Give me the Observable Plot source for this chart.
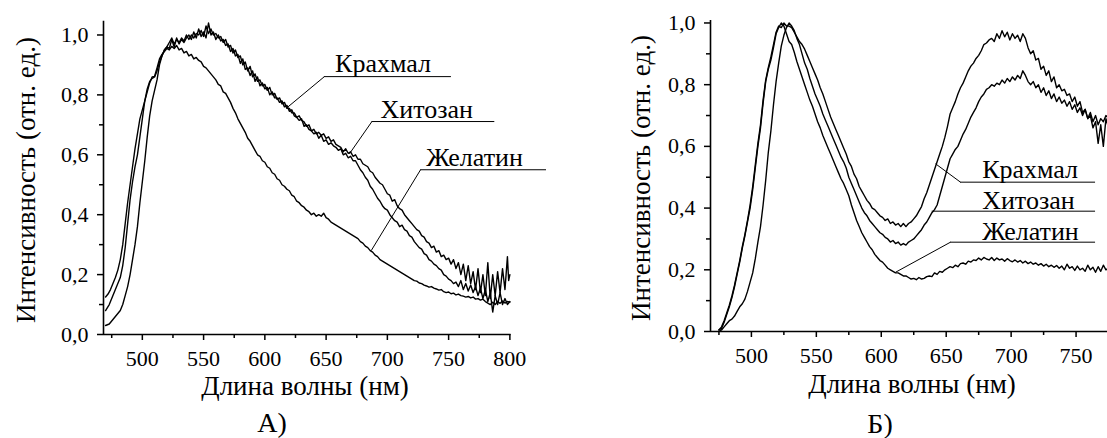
<!DOCTYPE html>
<html>
<head>
<meta charset="utf-8">
<script src="https://cdn.jsdelivr.net/npm/d3@7"></script>
<script src="https://cdn.jsdelivr.net/npm/@observablehq/plot@0.6"></script>
<style>
  html, body { margin: 0; padding: 0; background: #fff; }
  #wrap { position: relative; width: 1107px; height: 438px; overflow: hidden; background: #fff; }
  #wrap svg { position: absolute; top: 0; }
  .t { position: absolute; font-family: "Liberation Serif", Tinos, "Times New Roman", Times, "DejaVu Serif", serif; color: #000; white-space: nowrap; line-height: 1; }
</style>
</head>
<body>
<div id="wrap"></div>
<script>
// ---------- DATA ----------
const seriesNames = ["Крахмал", "Хитозан", "Желатин"];
// Panel A
const aGelatin = [[470,.125],[472,.135],[474,.15],[476,.17],[478,.19],[480,.215],[482,.25],[484,.30],[486,.37],[488,.44],[490,.50],[492,.56],[494,.62],[496,.67],[498,.72],[500,.75],[502,.78],[504,.81],[506,.84],[508,.86],[510,.862],[512,.89],[514,.92],[516,.935],[518,.945],[520,.955],[522,.95],[524,.962],[526,.955],[528,.965],[530,.95],[532,.955],[534,.94],[536,.945],[538,.93],[540,.935],[542,.92],[544,.925],[546,.915],[548,.91],[550,.895],[552,.89],[554,.88],[556,.87],[558,.86],[560,.85],[562,.835],[564,.83],[566,.81],[568,.805],[570,.79],[572,.775],[574,.755],[576,.74],[578,.72],[580,.705],[582,.69],[584,.675],[586,.655],[588,.645],[590,.63],[592,.615],[594,.6],[596,.595],[598,.58],[600,.575],[602,.56],[604,.555],[606,.54],[608,.535],[610,.52],[612,.515],[614,.5],[616,.495],[618,.485],[620,.48],[622,.465],[624,.46],[626,.445],[628,.44],[630,.43],[632,.425],[634,.415],[636,.41],[638,.4],[640,.405],[642,.395],[644,.4],[646,.395],[648,.405],[650,.39],[652,.385],[654,.375],[656,.37],[658,.365],[660,.36],[662,.355],[664,.35],[666,.345],[668,.34],[670,.335],[672,.33],[674,.325],[676,.32],[678,.31],[680,.305],[682,.295],[684,.29],[686,.28],[688,.275],[690,.265],[692,.26],[694,.25],[696,.245],[698,.24],[700,.235],[702,.23],[704,.225],[706,.22],[708,.215],[710,.21],[712,.205],[714,.2],[716,.195],[718,.19],[720,.185],[722,.18],[724,.178],[726,.172],[728,.17],[730,.165],[732,.162],[734,.158],[736,.16],[738,.155],[740,.152],[742,.148],[744,.15],[746,.143],[748,.14],[750,.142],[752,.136],[754,.138],[756,.132],[758,.135],[760,.13],[762,.128],[764,.125],[766,.127],[768,.122],[770,.125],[772,.118],[774,.12],[776,.115],[778,.118],[780,.11],[782,.105],[784,.1],[786,.108],[788,.1],[790,.11],[792,.104],[794,.112],[796,.105],[798,.11],[800,.108]];
const aStarch = [[470,.08],[473,.10],[476,.13],[479,.16],[482,.19],[484,.23],[486,.29],[488,.37],[490,.45],[492,.51],[494,.56],[496,.60],[498,.66],[500,.72],[502,.78],[504,.82],[506,.845],[508,.855],[510,.86],[512,.88],[514,.91],[516,.93],[518,.95],[520,.96],[522,.975],[524,.99],[526,.97],[528,.985],[530,.975],[532,.99],[534,.98],[536,1.0],[538,.985],[540,1.0],[542,.99],[544,1.005],[546,1.0],[548,1.015],[550,.995],[552,1.03],[554,1.005],[556,1.02],[558,1.0],[560,1.005],[562,.99],[564,.995],[566,.975],[568,.985],[570,.96],[572,.965],[574,.94],[576,.95],[578,.925],[580,.93],[582,.9],[584,.91],[586,.88],[588,.895],[590,.86],[592,.87],[594,.845],[596,.85],[598,.83],[600,.835],[602,.815],[604,.825],[606,.8],[608,.805],[610,.785],[612,.79],[614,.77],[616,.775],[618,.755],[620,.755],[622,.74],[624,.74],[626,.725],[628,.73],[630,.715],[632,.71],[634,.695],[636,.7],[638,.68],[640,.685],[642,.67],[644,.675],[646,.665],[648,.67],[650,.655],[652,.66],[654,.645],[656,.65],[658,.635],[660,.63],[662,.625],[664,.61],[666,.62],[668,.605],[670,.61],[672,.595],[674,.6],[676,.585],[678,.585],[680,.57],[682,.565],[684,.56],[686,.545],[688,.54],[690,.525],[692,.515],[694,.505],[696,.5],[698,.485],[700,.47],[702,.465],[704,.445],[706,.45],[708,.43],[710,.42],[712,.415],[714,.4],[716,.39],[718,.38],[720,.37],[722,.36],[724,.35],[726,.345],[728,.33],[730,.325],[732,.31],[734,.305],[736,.29],[738,.295],[740,.275],[742,.28],[744,.26],[746,.265],[748,.25],[750,.255],[752,.235],[754,.25],[756,.22],[758,.24],[760,.2],[762,.235],[764,.18],[766,.23],[768,.17],[770,.21],[772,.15],[774,.22],[776,.14],[778,.2],[780,.13],[782,.24],[784,.12],[786,.2],[788,.13],[790,.21],[792,.14],[794,.22],[796,.15],[798,.26],[799,.18],[800,.2]];
const aChitosan = [[470,.03],[473,.035],[476,.05],[479,.065],[482,.08],[484,.1],[486,.13],[488,.16],[490,.2],[492,.25],[494,.3],[496,.36],[498,.44],[500,.51],[502,.58],[504,.66],[506,.73],[508,.78],[510,.815],[512,.85],[514,.9],[516,.93],[518,.95],[520,.96],[522,.955],[524,.985],[526,.96],[528,.99],[530,.97],[532,.985],[534,.975],[536,.99],[538,1.0],[540,.985],[542,1.01],[544,.99],[546,1.02],[548,.995],[550,1.01],[552,.99],[554,1.04],[556,1.0],[558,1.01],[560,.985],[562,1.0],[564,.98],[566,.985],[568,.965],[570,.97],[572,.945],[574,.955],[576,.93],[578,.935],[580,.905],[582,.92],[584,.885],[586,.89],[588,.865],[590,.88],[592,.845],[594,.86],[596,.83],[598,.84],[600,.82],[602,.825],[604,.8],[606,.81],[608,.79],[610,.79],[612,.775],[614,.78],[616,.76],[618,.765],[620,.745],[622,.75],[624,.73],[626,.725],[628,.715],[630,.72],[632,.695],[634,.7],[636,.685],[638,.68],[640,.67],[642,.675],[644,.655],[646,.665],[648,.645],[650,.65],[652,.635],[654,.64],[656,.63],[658,.625],[660,.615],[662,.62],[664,.6],[666,.605],[668,.59],[670,.595],[672,.58],[674,.58],[676,.565],[678,.55],[680,.54],[682,.525],[684,.515],[686,.495],[688,.485],[690,.47],[692,.455],[694,.445],[696,.43],[698,.42],[700,.415],[702,.4],[704,.39],[706,.38],[708,.375],[710,.36],[712,.365],[714,.35],[716,.345],[718,.33],[720,.325],[722,.31],[724,.3],[726,.29],[728,.285],[730,.27],[732,.265],[734,.25],[736,.245],[738,.235],[740,.23],[742,.22],[744,.215],[746,.2],[748,.195],[750,.185],[752,.18],[754,.17],[756,.175],[758,.16],[760,.18],[762,.15],[764,.17],[766,.145],[768,.165],[770,.14],[772,.16],[774,.13],[776,.155],[778,.12],[780,.15],[782,.11],[784,.14],[786,.075],[788,.13],[790,.1],[792,.14],[794,.1],[796,.12],[798,.1],[800,.11]];

// Panel Б
const bGelatin = [[475,.005],[477,.01],[479,.03],[481,.055],[483,.08],[485,.11],[487,.145],[489,.185],[491,.225],[493,.27],[495,.31],[497,.355],[499,.40],[501,.46],[503,.53],[505,.6],[507,.66],[509,.74],[511,.81],[513,.85],[515,.88],[517,.92],[519,.965],[521,.985],[523,1.0],[525,.99],[527,.965],[529,.94],[531,.93],[533,.905],[535,.875],[537,.85],[539,.825],[541,.8],[543,.775],[545,.75],[547,.73],[549,.705],[551,.68],[553,.66],[555,.635],[557,.615],[559,.595],[561,.575],[563,.555],[565,.535],[567,.515],[569,.495],[571,.48],[573,.46],[575,.44],[577,.41],[579,.385],[581,.36],[583,.34],[585,.32],[587,.305],[589,.29],[591,.275],[593,.265],[595,.25],[597,.24],[599,.23],[601,.225],[603,.215],[605,.205],[607,.2],[609,.195],[611,.19],[613,.19],[615,.185],[617,.18],[619,.18],[621,.175],[623,.17],[625,.172],[627,.168],[629,.175],[631,.17],[633,.172],[635,.178],[637,.18],[639,.178],[641,.19],[643,.185],[645,.195],[647,.192],[649,.2],[651,.205],[653,.21],[655,.207],[657,.215],[659,.21],[661,.22],[663,.222],[665,.218],[667,.228],[669,.225],[671,.232],[673,.23],[675,.238],[677,.232],[679,.24],[681,.235],[683,.232],[685,.24],[687,.23],[689,.238],[691,.232],[693,.235],[695,.228],[697,.236],[699,.23],[701,.226],[703,.232],[705,.225],[707,.23],[709,.222],[711,.228],[713,.22],[715,.225],[717,.218],[719,.222],[721,.215],[723,.22],[725,.212],[727,.218],[729,.21],[731,.215],[733,.208],[735,.214],[737,.205],[739,.212],[741,.2],[743,.218],[745,.205],[747,.21],[749,.198],[751,.212],[753,.2],[755,.205],[757,.195],[759,.215],[761,.2],[763,.208],[765,.192],[767,.21],[769,.195],[771,.215],[773,.2],[775,.205]];
const bStarch = [[475,.005],[477,.015],[479,.035],[481,.06],[483,.085],[485,.115],[487,.15],[489,.19],[491,.23],[493,.275],[495,.315],[497,.36],[499,.41],[501,.47],[503,.54],[505,.61],[507,.67],[509,.75],[511,.815],[513,.855],[515,.89],[517,.93],[519,.97],[521,.99],[523,.985],[525,1.0],[527,.99],[529,.99],[531,.985],[533,.97],[535,.955],[537,.94],[539,.93],[541,.915],[543,.895],[545,.875],[547,.855],[549,.835],[551,.815],[553,.79],[555,.77],[557,.745],[559,.72],[561,.695],[563,.675],[565,.655],[567,.635],[569,.615],[571,.595],[573,.575],[575,.55],[577,.535],[579,.51],[581,.495],[583,.47],[585,.455],[587,.44],[589,.425],[591,.415],[593,.4],[595,.395],[597,.385],[599,.375],[601,.37],[603,.36],[605,.365],[607,.35],[609,.355],[611,.345],[613,.35],[615,.34],[617,.35],[619,.34],[621,.35],[623,.355],[625,.365],[627,.375],[629,.39],[631,.405],[633,.43],[635,.45],[637,.475],[639,.5],[641,.525],[643,.55],[645,.575],[647,.6],[649,.63],[651,.665],[653,.705],[655,.725],[657,.745],[659,.77],[661,.79],[663,.805],[665,.825],[667,.845],[669,.86],[671,.87],[673,.885],[675,.895],[677,.91],[679,.93],[681,.935],[683,.945],[685,.95],[687,.94],[689,.965],[691,.95],[693,.975],[695,.955],[697,.97],[699,.945],[701,.965],[703,.95],[705,.96],[707,.94],[709,.965],[711,.95],[713,.92],[715,.9],[717,.91],[719,.88],[721,.885],[723,.85],[725,.86],[727,.83],[729,.845],[731,.81],[733,.825],[735,.79],[737,.8],[739,.78],[741,.785],[743,.765],[745,.77],[747,.745],[749,.76],[751,.73],[753,.745],[755,.71],[757,.72],[759,.69],[761,.7],[763,.66],[765,.68],[767,.61],[769,.67],[771,.6],[773,.69],[775,.66]];
const bChitosan = [[475,0],[477,.005],[479,.015],[481,.025],[483,.035],[485,.04],[487,.05],[489,.065],[491,.08],[493,.09],[495,.105],[497,.13],[499,.16],[501,.19],[503,.236],[505,.29],[507,.34],[509,.41],[511,.49],[513,.58],[515,.65],[517,.735],[519,.81],[521,.87],[523,.925],[525,.96],[527,.985],[529,1.0],[531,.99],[533,.975],[535,.95],[537,.93],[539,.9],[541,.87],[543,.85],[545,.82],[547,.795],[549,.77],[551,.75],[553,.73],[555,.705],[557,.685],[559,.665],[561,.645],[563,.625],[565,.605],[567,.585],[569,.565],[571,.55],[573,.53],[575,.5],[577,.48],[579,.46],[581,.44],[583,.42],[585,.4],[587,.385],[589,.375],[591,.36],[593,.35],[595,.34],[597,.33],[599,.32],[601,.315],[603,.305],[605,.3],[607,.29],[609,.295],[611,.285],[613,.29],[615,.28],[617,.285],[619,.28],[621,.29],[623,.295],[625,.3],[627,.31],[629,.32],[631,.33],[633,.345],[635,.355],[637,.37],[639,.385],[641,.395],[643,.41],[645,.44],[647,.47],[649,.5],[651,.53],[653,.56],[655,.575],[657,.59],[659,.6],[661,.62],[663,.64],[665,.655],[667,.675],[669,.695],[671,.71],[673,.725],[675,.745],[677,.76],[679,.77],[681,.785],[683,.79],[685,.8],[687,.795],[689,.805],[691,.8],[693,.815],[695,.805],[697,.82],[699,.81],[701,.825],[703,.815],[705,.83],[707,.82],[709,.845],[711,.83],[713,.81],[715,.8],[717,.81],[719,.79],[721,.8],[723,.775],[725,.79],[727,.765],[729,.78],[731,.755],[733,.77],[735,.745],[737,.76],[739,.74],[741,.75],[743,.73],[745,.745],[747,.72],[749,.735],[751,.71],[753,.725],[755,.7],[757,.72],[759,.69],[761,.71],[763,.68],[765,.7],[767,.67],[769,.69],[771,.68],[773,.7],[775,.69]];

// Tick values
const yMajor = [0, 0.2, 0.4, 0.6, 0.8, 1.0];
const yMinor = [0.1, 0.3, 0.5, 0.7, 0.9];
const xMajorA = [500, 550, 600, 650, 700, 750, 800];
const xMinorA = [475, 525, 575, 625, 675, 725, 775];
const xMajorB = [500, 550, 600, 650, 700, 750];
const xMinorB = [475, 525, 575, 625, 675, 725];

// Texts
const xTitle = "Длина волны (нм)";
const yTitle = "Интенсивность (отн. ед.)";
const panelLetters = ["А)", "Б)"];

// Annotation anchors (data units): text, underline, leader end
const annA = [
  {name: seriesNames[0], tx: 657.3, ty: 0.876, ux1: 648.6, ux2: 752.3, uy: 0.861, lx: 618.6, ly: 0.759},
  {name: seriesNames[1], tx: 694.4, ty: 0.7235, ux1: 687.4, ux2: 787.7, uy: 0.711, lx: 669, ly: 0.603},
  {name: seriesNames[2], tx: 731.8, ty: 0.564, ux1: 727.1, ux2: 829.9, uy: 0.55, lx: 686.8, ly: 0.28}
];
const annB = [
  {name: seriesNames[0], tx: 677.7, ty: 0.496, ux1: 661.0, ux2: 765.0, uy: 0.484, lx: 641.8, ly: 0.5436},
  {name: seriesNames[1], tx: 677.7, ty: 0.3955, ux1: 639.2, ux2: 765.0, uy: 0.39, lx: 639.2, ly: 0.39},
  {name: seriesNames[2], tx: 677.7, ty: 0.298, ux1: 653.3, ux2: 765.0, uy: 0.2895, lx: 611.0, ly: 0.192}
];

// ---------- BUILD ----------
const FONT = '"Liberation Serif", Tinos, "Times New Roman", Times, "DejaVu Serif", serif';
const toRows = (arr, s) => arr.map(([nm, v]) => ({nm, v, s}));
const rowsA = [...toRows(aStarch, seriesNames[0]), ...toRows(aChitosan, seriesNames[1]), ...toRows(aGelatin, seriesNames[2])];
const rowsB = [...toRows(bStarch, seriesNames[0]), ...toRows(bChitosan, seriesNames[1]), ...toRows(bGelatin, seriesNames[2])];
const fmt = d => d.toFixed(1).replace(".", ",");

function panel(rows, ann, o) {
  const svg = Plot.plot({
    width: o.width, height: 438,
    marginLeft: o.ml, marginRight: o.mr, marginTop: o.mt, marginBottom: o.mb,
    x: {domain: o.xd}, y: {domain: o.yd},
    style: {fontSize: "22px", color: "black", background: "transparent", overflow: "visible"},
    marks: [
      Plot.line(rows, {x: "nm", y: "v", z: "s", stroke: "black", strokeWidth: 1.4}),
      Plot.ruleX([o.xd[0]], {stroke: "black", strokeWidth: 1.6}),
      Plot.ruleY([0], {stroke: "black", strokeWidth: 1.6}),
      Plot.axisY({ticks: yMajor, tickSize: 6, tickPadding: 9, tickFormat: fmt, label: null, strokeWidth: 1.5}),
      Plot.axisY({ticks: yMinor, tickSize: 4, tickFormat: () => "", label: null, strokeWidth: 1.5}),
      Plot.axisX({ticks: o.xMajor, tickSize: 6, tickPadding: 10, tickFormat: d => String(d), label: null, strokeWidth: 1.5}),
      Plot.axisX({ticks: o.xMinor, tickSize: 4, tickFormat: () => "", label: null, strokeWidth: 1.5}),
      Plot.link(ann, {x1: "lx", y1: "ly", x2: "ux1", y2: "uy", stroke: "black", strokeWidth: 1}),
      Plot.ruleY(ann, {x1: "ux1", x2: "ux2", y: "uy", stroke: "black", strokeWidth: 1}),
      Plot.text(ann, {x: "tx", y: "ty", text: "name", textAnchor: "start", lineAnchor: "bottom", fontSize: 26, fill: "black"})
    ]
  });
  svg.style.fontFamily = FONT;
  svg.querySelectorAll("text").forEach(t => t.setAttribute("font-family", FONT));
  return svg;
}

const wrap = document.getElementById("wrap");
const pA = panel(rowsA, annA, {width: 560, ml: 103, mr: 49.4, mt: 20.7, mb: 104, xd: [468.3, 801], yd: [0, 1.046], xMajor: xMajorA, xMinor: xMinorA});
pA.style.left = "0px";
wrap.appendChild(pA);
const pB = panel(rowsB, annB, {width: 547, ml: 150, mr: 0, mt: 20, mb: 107, xd: [468.5, 774.2], yd: [0, 1.008], xMajor: xMajorB, xMinor: xMinorB});
pB.style.left = "560px";
wrap.appendChild(pB);

function addText(txt, cx, baseline, fs, rotate) {
  const d = document.createElement("div");
  d.className = "t";
  d.textContent = txt;
  d.style.fontSize = fs + "px";
  if (rotate) {
    d.style.left = cx + "px";
    d.style.top = baseline + "px";
    d.style.transform = "translate(-50%, -50%) rotate(-90deg)";
  } else {
    d.style.left = cx + "px";
    d.style.top = (baseline - 0.8375 * fs) + "px";
    d.style.transform = "translateX(-50%)";
  }
  wrap.appendChild(d);
}
addText(xTitle, 305, 396, 27);
addText(xTitle, 912, 394, 27);
addText(yTitle, 26, 180, 27, true);
addText(yTitle, 641, 178, 27, true);
addText(panelLetters[0], 272, 432, 28);
addText(panelLetters[1], 880, 433, 28);
</script>
</body>
</html>
